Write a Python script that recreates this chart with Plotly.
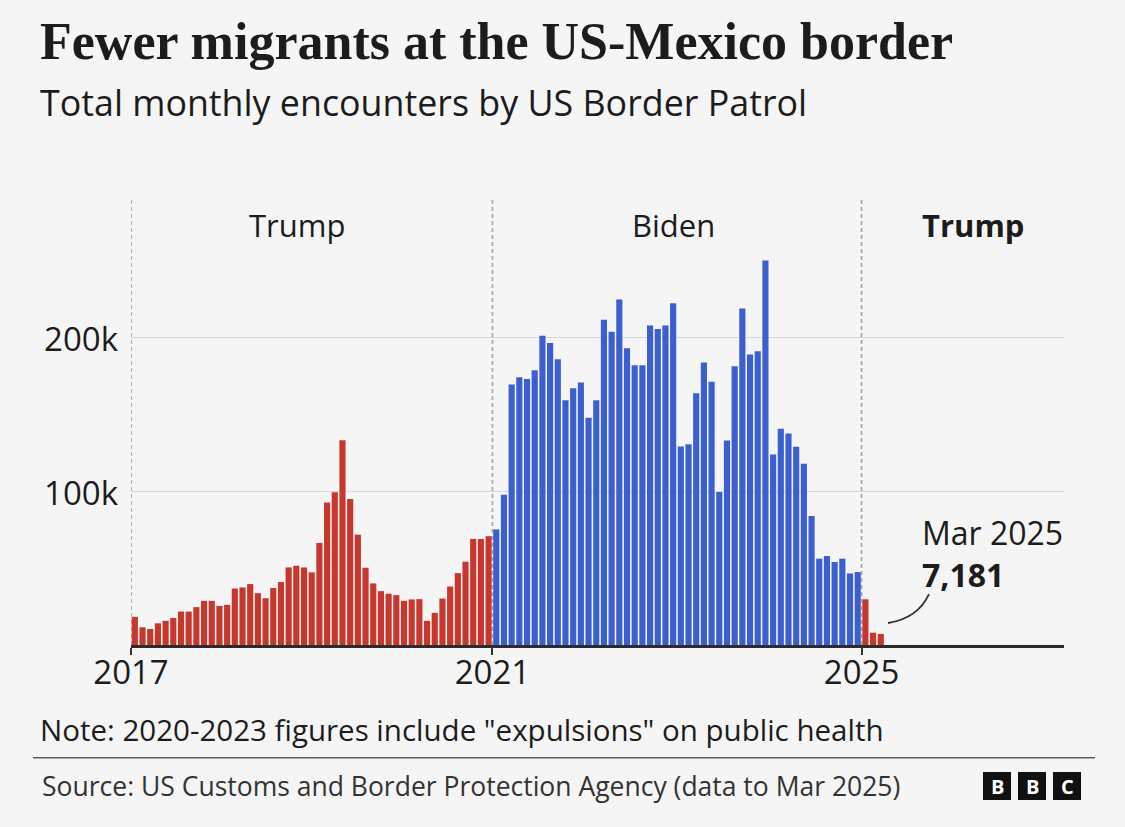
import plotly.graph_objects as go

# ---------------- data (thousands of encounters) ----------------
trump1_k = [18.3, 11.5, 10.4, 14.1, 15.7, 17.6, 21.7, 21.7, 24.6, 28.7, 28.7, 25.4,
            26.1, 36.7, 37.4, 39.6, 33.7, 30.4, 37.0, 40.9, 50.4, 51.5, 50.4, 47.2,
            66.3, 92.6, 99.3, 133.0, 94.8, 71.7, 50.2, 40.0, 35.0, 33.3, 32.4, 28.7,
            29.6, 29.8, 15.7, 20.9, 30.2, 38.0, 46.7, 54.1, 68.9, 68.9, 70.7]
biden_k = [75.1, 97.6, 169.3, 174.0, 172.9, 178.6, 200.9, 196.3, 185.7, 159.1,
           166.9, 170.6, 147.6, 159.1, 211.3, 203.5, 224.5, 192.9, 181.8, 181.8,
           207.6, 205.4, 207.6, 222.1, 129.0, 130.5, 163.6, 183.5, 171.0, 99.4,
           132.9, 181.2, 218.6, 188.7, 190.9, 249.8, 123.8, 140.5, 137.4, 128.8,
           117.7, 83.8, 56.1, 57.8, 53.9, 56.1, 46.5, 47.4]
trump2 = [29700, 8000, 7181]

year_ticks = ["2017", "2021", "2025"]
y_tick_vals = [100000, 200000]
y_tick_text = ["100k", "200k"]
periods = ["Trump", "Biden", "Trump"]

# ---------------- derived series ----------------
trump1 = [v * 1000 for v in trump1_k]
biden = [v * 1000 for v in biden_k]
n1, n2, n3 = len(trump1), len(biden), len(trump2)
x1 = list(range(0, n1))
x2 = list(range(n1, n1 + n2))
x3 = list(range(n1 + n2, n1 + n2 + n3))
tick_pos = [-0.5, n1 - 0.5, n1 + n2 - 0.5]

RED = "#c8372d"
BLUE = "#3b5fcf"
BG = "#f5f5f5"
TXT = "#1c1c1c"
FONT = "Open Sans"

W, H = 1125, 827
L, R, T, B = 131, 61, 200, 182
PW, PH = W - L - R, H - T - B


def px(x):
    return (x - L) / PW


def py(y):
    return (H - B - y) / PH


fig = go.Figure()
for xs, ys, col in [(x1, trump1, RED), (x2, biden, BLUE), (x3, trump2, RED)]:
    fig.add_trace(go.Bar(x=xs, y=ys, marker=dict(color=col, line=dict(width=0)),
                         showlegend=False, hoverinfo="y"))

# per-bar pixel width -> x range
unit = 7.69
x_max = -0.5 + PW / unit

shapes = []
for tp in tick_pos:
    shapes.append(dict(type="line", xref="x", yref="paper", x0=tp, x1=tp, y0=0, y1=1.005,
                       line=dict(color="#a8a8a8", width=1.8, dash="4px,3px"), layer="below"))

# connector from last bar to label
lx = x3[-1]
shapes.append(dict(type="path", xref="x", yref="y",
                   path=f"M {lx + 0.94},{14300} Q {lx + 4.84},{17500} {lx + 6.27},{33100}",
                   line=dict(color="#333333", width=1.8)))

# separator line
shapes.append(dict(type="line", xref="paper", yref="paper", x0=px(33), x1=px(1095),
                   y0=py(757.7), y1=py(757.7), line=dict(color="#5a5a5a", width=1.6)))

# BBC logo boxes
annotations = []
for i, letter in enumerate(["B", "B", "C"]):
    x0 = 983 + i * 35
    shapes.append(dict(type="rect", xref="paper", yref="paper", x0=px(x0), x1=px(x0 + 28),
                       y0=py(800), y1=py(772), fillcolor="#111111", line=dict(width=0)))
    annotations.append(dict(xref="paper", yref="paper", x=px(x0 + 14), y=py(786), text=f"<b>{letter}</b>",
                            showarrow=False, xanchor="center", yanchor="middle",
                            font=dict(family=FONT, size=20, color="white")))

# titles
annotations.append(dict(xref="paper", yref="paper", x=px(38), y=py(41),
                        text="<b>Fewer migrants at the US-Mexico border</b>", showarrow=False,
                        xanchor="left", yanchor="middle",
                        font=dict(family="Liberation Serif", size=52, color=TXT)))
annotations.append(dict(xref="paper", yref="paper", x=px(38), y=py(102),
                        text="Total monthly encounters by US Border Patrol", showarrow=False,
                        xanchor="left", yanchor="middle",
                        font=dict(family=FONT, size=35.8, color=TXT)))

# period labels
period_x = [21.1, 70.0, 109.0]
for lab, xx, bold in zip(periods, period_x, [False, False, True]):
    annotations.append(dict(xref="x", yref="paper", x=xx, y=py(225),
                            text=f"<b>{lab}</b>" if bold else lab, showarrow=False,
                            xanchor="center", yanchor="middle",
                            font=dict(family=FONT, size=31, color=TXT)))

# last value label
annotations.append(dict(xref="x", yref="paper", x=lx + 5.1, y=py(553),
                        text=f"Mar 2025<br><b>{trump2[-1]:,}</b>", align="left",
                        showarrow=False, xanchor="left", yanchor="middle",
                        font=dict(family=FONT, size=32, color=TXT)))

# note and source
annotations.append(dict(xref="paper", yref="paper", x=px(38), y=py(729),
                        text='Note: 2020-2023 figures include "expulsions" on public health',
                        showarrow=False, xanchor="left", yanchor="middle",
                        font=dict(family=FONT, size=29.5, color=TXT)))
annotations.append(dict(xref="paper", yref="paper", x=px(40), y=py(786),
                        text="Source: US Customs and Border Protection Agency (data to Mar 2025)",
                        showarrow=False, xanchor="left", yanchor="middle",
                        font=dict(family=FONT, size=26.5, color="#333333")))

fig.update_layout(
    width=W, height=H,
    margin=dict(l=L, r=R, t=T, b=B, pad=0),
    paper_bgcolor=BG, plot_bgcolor=BG,
    bargap=0.2,
    shapes=shapes, annotations=annotations,
    font=dict(family=FONT, color=TXT),
    xaxis=dict(range=[-0.5, x_max], tickmode="array", tickvals=tick_pos, ticktext=year_ticks,
               ticks="outside", ticklen=7, tickwidth=1.6, tickcolor="#333333",
               showline=True, linecolor="#2a2a2a", linewidth=2.5, showgrid=False, zeroline=False,
               ticklabelstandoff=-10,
               tickfont=dict(family=FONT, size=33, color=TXT), fixedrange=True),
    yaxis=dict(range=[0, PH / 1.539 * 1000], tickmode="array", tickvals=y_tick_vals,
               ticktext=y_tick_text, ticks="", showgrid=True, gridcolor="#d8d8d8", gridwidth=1.2,
               zeroline=False, showline=False, ticklabelstandoff=12, ticklabelshift=2,
               tickfont=dict(family=FONT, size=33, color=TXT), fixedrange=True),
)

fig.write_html(
    "out.html",
    config={"displayModeBar": False},
    post_script=("document.body.style.margin='0';document.body.style.padding='0';"
                 "document.body.style.overflow='hidden';document.body.style.background='" + BG + "';"),
)
